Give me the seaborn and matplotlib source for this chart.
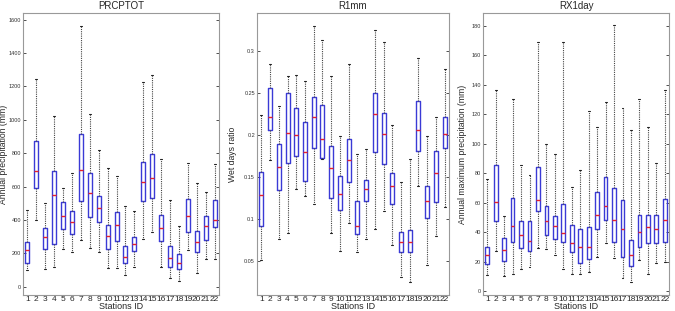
import matplotlib

matplotlib.use("Agg")
import matplotlib.pyplot as plt
import pandas as pd
import seaborn as sns

stations = [str(i) for i in range(1, 23)]

# five-number summaries (whisker low, q1, median, q3, whisker high)
prcptot_lo = [100, 401, 107, 119, 227, 210, 278, 232, 207, 113, 113, 68, 119, 286, 326, 119, 52, 34, 220, 79, 167, 163]
prcptot_q1 = [143, 590, 223, 258, 346, 316, 513, 418, 385, 228, 276, 143, 213, 511, 531, 276, 119, 107, 328, 207, 278, 358]
prcptot_med = [219, 693, 298, 549, 425, 385, 700, 560, 471, 306, 372, 179, 255, 627, 650, 350, 173, 143, 425, 266, 362, 397]
prcptot_q3 = [266, 872, 350, 695, 507, 453, 913, 680, 546, 368, 449, 246, 298, 745, 794, 427, 246, 195, 525, 332, 421, 521]
prcptot_hi = [460, 1244, 500, 1020, 590, 680, 1562, 1032, 821, 709, 664, 485, 451, 1229, 1268, 763, 517, 366, 743, 624, 570, 735]

r1mm_lo = [0.051, 0.170, 0.076, 0.084, 0.136, 0.128, 0.118, 0.172, 0.084, 0.062, 0.095, 0.061, 0.076, 0.088, 0.110, 0.069, 0.031, 0.025, 0.140, 0.046, 0.080, 0.114]
r1mm_q1 = [0.092, 0.206, 0.135, 0.167, 0.175, 0.146, 0.185, 0.173, 0.125, 0.111, 0.144, 0.083, 0.122, 0.180, 0.166, 0.118, 0.061, 0.061, 0.181, 0.102, 0.120, 0.185]
r1mm_med = [0.129, 0.221, 0.162, 0.202, 0.200, 0.180, 0.221, 0.195, 0.161, 0.130, 0.170, 0.092, 0.136, 0.225, 0.201, 0.140, 0.073, 0.073, 0.206, 0.122, 0.155, 0.201]
r1mm_q3 = [0.156, 0.256, 0.189, 0.250, 0.232, 0.216, 0.245, 0.236, 0.187, 0.151, 0.195, 0.122, 0.147, 0.250, 0.226, 0.155, 0.085, 0.087, 0.241, 0.140, 0.181, 0.222]
r1mm_hi = [0.224, 0.285, 0.235, 0.270, 0.271, 0.264, 0.330, 0.313, 0.270, 0.199, 0.285, 0.177, 0.184, 0.325, 0.310, 0.212, 0.144, 0.172, 0.292, 0.199, 0.222, 0.278]

rx1day_lo = [10.9, 27.2, 10.4, 11.3, 14.7, 16.5, 29.5, 28.6, 24.5, 14.7, 11.6, 11.6, 12.7, 23.1, 32.4, 22.2, 9.1, 6.3, 21.1, 11.3, 18.8, 19.9]
rx1day_q1 = [18.4, 47.4, 20.4, 33.4, 29.4, 27.2, 54.1, 37.9, 35.2, 33.0, 26.3, 19.3, 21.5, 42.0, 48.5, 33.0, 22.9, 17.0, 29.6, 32.4, 32.4, 33.0]
rx1day_med = [24.5, 60.4, 28.0, 44.2, 38.0, 33.9, 62.0, 47.4, 44.2, 39.7, 32.5, 30.0, 30.1, 51.9, 57.7, 48.0, 41.8, 24.5, 40.0, 43.5, 42.0, 48.5]
rx1day_q3 = [30.1, 85.7, 35.7, 63.3, 47.4, 47.4, 84.0, 57.7, 51.0, 58.8, 45.1, 42.4, 43.5, 67.5, 77.2, 70.0, 61.5, 34.6, 51.4, 51.4, 51.4, 62.2]
rx1day_hi = [76.1, 136.4, 51.2, 130.6, 85.7, 78.9, 169.3, 99.6, 92.9, 169.3, 70.9, 82.0, 122.3, 111.6, 128.6, 180.4, 124.6, 109.4, 130.6, 111.6, 86.8, 136.4]


def long_frame(lo, q1, med, q3, hi):
    rows = []
    for i, st in enumerate(stations):
        for v in (lo[i], q1[i], med[i], q3[i], hi[i]):
            rows.append((st, v))
    return pd.DataFrame(rows, columns=["station", "value"])


# title, y label, data, ylim, yticks, axes left/right in px, y-label right edge in px
panels = [
    ("PRCPTOT", "Annual precipitation (mm)", long_frame(prcptot_lo, prcptot_q1, prcptot_med, prcptot_q3, prcptot_hi),
     (-50, 1640), [0, 200, 400, 600, 800, 1000, 1200, 1400, 1600], (23, 219), 8),
    ("R1mm", "Wet days ratio", long_frame(r1mm_lo, r1mm_q1, r1mm_med, r1mm_q3, r1mm_hi),
     (0.01, 0.345), [0.05, 0.1, 0.15, 0.2, 0.25, 0.3], (257, 449), 237),
    ("RX1day", "Annual maximum precipitation (mm)", long_frame(rx1day_lo, rx1day_q1, rx1day_med, rx1day_q3, rx1day_hi),
     (-2.7, 188.8), [0, 20, 40, 60, 80, 100, 120, 140, 160, 180], (483, 669), 467),
]

sns.set_theme(style="white")
plt.rcParams["font.family"] = ["Liberation Sans", "DejaVu Sans"]

W, H = 675, 311
fig = plt.figure(figsize=(W / 100, H / 100), dpi=100)

for title, ylabel, df, ylim, yticks, (x0, x1), ylab_x in panels:
    ax = fig.add_axes([x0 / W, (H - 295) / H, (x1 - x0) / W, (295 - 13) / H])
    sns.boxplot(
        data=df, x="station", y="value", ax=ax,
        whis=(0, 100), width=0.45, fill=False, showfliers=False,
        color="#3a3ad6", linewidth=1.0,
        boxprops=dict(color="#3a3ad6", linewidth=1.0),
        medianprops=dict(color="#e8202a", linewidth=1.0),
        whiskerprops=dict(color="#444444", linestyle=(0, (1, 1)), linewidth=0.8),
        capprops=dict(color="#222222", linewidth=0.8),
    )
    ax.set_ylim(*ylim)
    ax.set_yticks(yticks)
    ax.set_yticklabels([f"{t:g}" for t in yticks], fontsize=4)
    ax.set_title(title, fontsize=7, pad=3)
    ax.set_xlabel("Stations ID", fontsize=6.5, labelpad=-1)
    ax.set_ylabel(ylabel, fontsize=6.2)
    ax.yaxis.set_label_coords((ylab_x - x0) / (x1 - x0), 0.5)
    ax.tick_params(axis="x", labelsize=6, length=0, pad=1)
    ax.tick_params(axis="y", direction="in", length=2, width=0.6, right=True, left=True, pad=1.5, colors="#333333")
    for sp in ax.spines.values():
        sp.set_color("#999999")
        sp.set_linewidth(0.8)

fig.savefig("out.png", dpi=100)
